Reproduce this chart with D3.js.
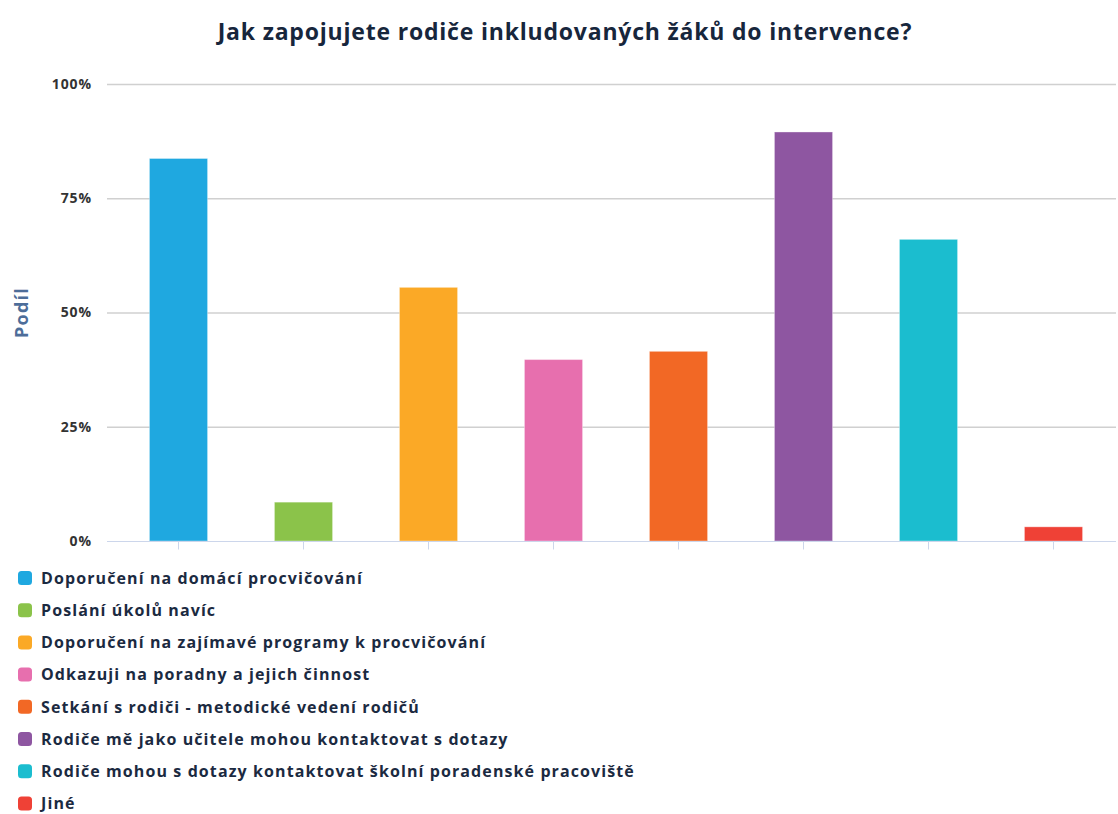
<!DOCTYPE html>
<html>
<head>
<meta charset="utf-8">
<script src="https://cdn.jsdelivr.net/npm/d3@7"></script>
<style>
  html, body { margin: 0; padding: 0; background: #ffffff; }
  svg { display: block; }
  text { font-family: "Open Sans", "DejaVu Sans", sans-serif; }
</style>
</head>
<body>
<svg id="chart" width="1118" height="814"></svg>
<script>
// Chart content
const title = "Jak zapojujete rodiče inkludovaných žáků do intervence?";
const yTitle = "Podíl";
const categories = [
  "Doporučení na domácí procvičování",
  "Poslání úkolů navíc",
  "Doporučení na  zajímavé programy k procvičování",
  "Odkazuji na poradny a jejich činnost",
  "Setkání s rodiči  - metodické vedení rodičů",
  "Rodiče mě jako učitele mohou kontaktovat s dotazy",
  "Rodiče mohou s dotazy kontaktovat školní poradenské pracoviště",
  "Jiné"
];
const values = [0.837, 0.085, 0.555, 0.397, 0.415, 0.895, 0.66, 0.031];
const colors = ["#1fa8e0", "#8bc34a", "#fba926", "#e76fae", "#f26825", "#8e56a1", "#1bbdcf", "#ef4136"];
const yTicks = [0, 0.25, 0.5, 0.75, 1];

const svg = d3.select("#chart");
const plot = { left: 116, right: 1116, top: 84, bottom: 541 };

const x = d3.scaleBand()
  .domain(categories)
  .range([plot.left, plot.right])
  .paddingInner(0.535)
  .paddingOuter(0.2675);

const y = d3.scaleLinear().domain([0, 1]).range([plot.bottom, plot.top]);

// Title
svg.append("text")
  .attr("x", 565).attr("y", 40)
  .attr("text-anchor", "middle")
  .attr("font-size", 23).attr("font-weight", 700)
  .attr("letter-spacing", 0.8)
  .attr("fill", "#17263c")
  .text(title);

// Gridlines
svg.append("g")
  .selectAll("line")
  .data(yTicks.filter(d => d > 0))
  .join("line")
  .attr("x1", 107).attr("x2", plot.right)
  .attr("y1", d => y(d) + 0.5).attr("y2", d => y(d) + 0.5)
  .attr("stroke", "#d0d0d0").attr("stroke-width", 1.5);

// Y axis labels
const yAxis = d3.axisLeft(y)
  .tickValues(yTicks)
  .tickFormat(d3.format(".0%"))
  .tickSize(0)
  .tickPadding(0);
svg.append("g")
  .attr("transform", `translate(92,0)`)
  .call(yAxis)
  .call(g => g.select(".domain").remove())
  .call(g => g.selectAll("text")
    .attr("font-size", 14).attr("font-weight", 700)
    .attr("letter-spacing", 0.9)
    .attr("font-family", "\"DejaVu Sans\", sans-serif")
    .attr("fill", "#333333"));

// Y axis title
svg.append("text")
  .attr("transform", `translate(28,${(plot.top + plot.bottom) / 2}) rotate(-90)`)
  .attr("text-anchor", "middle")
  .attr("font-size", 18).attr("font-weight", 700)
  .attr("letter-spacing", 1.2)
  .attr("fill", "#4d6d99")
  .text(yTitle);

// Bars
svg.append("g")
  .selectAll("rect")
  .data(categories)
  .join("rect")
  .attr("x", d => x(d))
  .attr("width", x.bandwidth())
  .attr("y", (d, i) => y(values[i]))
  .attr("height", (d, i) => y(0) - y(values[i]))
  .attr("fill", (d, i) => colors[i])
  .attr("stroke", "#ffffff").attr("stroke-opacity", 0.35).attr("stroke-width", 1);

// X axis baseline with ticks
const xAxis = d3.axisBottom(x).tickSize(8).tickFormat("");
svg.append("g")
  .attr("transform", `translate(0,${plot.bottom + 0.5})`)
  .call(xAxis)
  .call(g => g.select(".domain").attr("stroke", "#ccd6eb").attr("d", `M107,0H${plot.right}`))
  .call(g => g.selectAll(".tick line").attr("stroke", "#ccd6eb"));

// Legend
const legend = svg.append("g");
const rows = legend.selectAll("g")
  .data(categories)
  .join("g")
  .attr("transform", (d, i) => `translate(18,${578 + i * 32.2})`);
rows.append("rect")
  .attr("x", 0).attr("y", -7)
  .attr("width", 14).attr("height", 14)
  .attr("rx", 3.5)
  .attr("fill", (d, i) => colors[i]);
rows.append("text")
  .attr("x", 23).attr("y", 0).attr("dy", "0.36em")
  .attr("font-size", 16).attr("font-weight", 700)
  .attr("letter-spacing", 1.1)
  .attr("fill", "#1b2a41")
  .text(d => d);
</script>
</body>
</html>
